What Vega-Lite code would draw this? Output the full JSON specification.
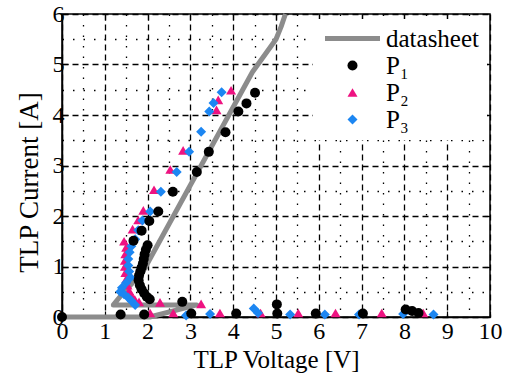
{
  "$schema": "https://vega.github.io/schema/vega-lite/v6.json",
  "width": 428,
  "height": 303,
  "autosize": {"type": "none"},
  "padding": {"left": 62, "top": 14, "right": 17, "bottom": 65},
  "config": {
    "view": {"stroke": "black", "strokeWidth": 1.5},
    "font": "Liberation Serif",
    "axis": {
      "labelFont": "Liberation Serif",
      "titleFont": "Liberation Serif",
      "labelColor": "black",
      "titleColor": "black",
      "titleFontWeight": "normal",
      "domainColor": "black",
      "domainWidth": 1.5,
      "tickColor": "black",
      "tickWidth": 1.2,
      "labelFlush": false,
      "labelOverlap": false
    },
    "legend": {
      "title": null,
      "orient": "none",
      "legendX": 251,
      "legendY": 5,
      "padding": 7,
      "fillColor": "white",
      "strokeColor": null,
      "labelFont": "Liberation Serif",
      "labelFontSize": 25,
      "labelColor": "black",
      "symbolSize": 45,
      "symbolOffset": 20,
      "labelOffset": 21,
      "rowPadding": 1
    }
  },
  "datasets": {
    "sheet": [
      {"V": 0, "I": 0, "series": "datasheet"},
      {"V": 2.05, "I": 0, "series": "datasheet"},
      {"V": 3.15, "I": 0.24, "series": "datasheet"},
      {"V": 1.2, "I": 0.24, "series": "datasheet"},
      {"V": 1.45, "I": 0.5, "series": "datasheet"},
      {"V": 1.88, "I": 0.88, "series": "datasheet"},
      {"V": 4.45, "I": 4.85, "series": "datasheet"},
      {"V": 5.0, "I": 5.5, "series": "datasheet"},
      {"V": 5.12, "I": 5.75, "series": "datasheet"},
      {"V": 5.22, "I": 6.0, "series": "datasheet"}
    ],
    "meas": [
      {"V": 3.95, "I": 4.49, "series": "P₂"},
      {"V": 3.65, "I": 4.30, "series": "P₂"},
      {"V": 3.61, "I": 4.10, "series": "P₂"},
      {"V": 2.83, "I": 3.30, "series": "P₂"},
      {"V": 2.53, "I": 2.92, "series": "P₂"},
      {"V": 2.15, "I": 2.52, "series": "P₂"},
      {"V": 1.90, "I": 2.11, "series": "P₂"},
      {"V": 1.78, "I": 1.92, "series": "P₂"},
      {"V": 1.65, "I": 1.74, "series": "P₂"},
      {"V": 1.45, "I": 1.50, "series": "P₂"},
      {"V": 1.50, "I": 1.38, "series": "P₂"},
      {"V": 1.48, "I": 1.25, "series": "P₂"},
      {"V": 1.47, "I": 1.12, "series": "P₂"},
      {"V": 1.47, "I": 1.00, "series": "P₂"},
      {"V": 1.48, "I": 0.88, "series": "P₂"},
      {"V": 1.50, "I": 0.75, "series": "P₂"},
      {"V": 1.53, "I": 0.63, "series": "P₂"},
      {"V": 1.57, "I": 0.52, "series": "P₂"},
      {"V": 1.62, "I": 0.43, "series": "P₂"},
      {"V": 1.70, "I": 0.35, "series": "P₂"},
      {"V": 1.80, "I": 0.30, "series": "P₂"},
      {"V": 2.29, "I": 0.29, "series": "P₂"},
      {"V": 3.25, "I": 0.26, "series": "P₂"},
      {"V": 2.06, "I": 0.08, "series": "P₂"},
      {"V": 2.60, "I": 0.08, "series": "P₂"},
      {"V": 3.69, "I": 0.08, "series": "P₂"},
      {"V": 4.64, "I": 0.08, "series": "P₂"},
      {"V": 5.52, "I": 0.08, "series": "P₂"},
      {"V": 6.39, "I": 0.08, "series": "P₂"},
      {"V": 7.47, "I": 0.08, "series": "P₂"},
      {"V": 8.44, "I": 0.08, "series": "P₂"},
      {"V": 3.73, "I": 4.45, "series": "P₃"},
      {"V": 3.54, "I": 4.24, "series": "P₃"},
      {"V": 3.44, "I": 4.07, "series": "P₃"},
      {"V": 3.25, "I": 3.67, "series": "P₃"},
      {"V": 2.97, "I": 3.27, "series": "P₃"},
      {"V": 2.68, "I": 2.87, "series": "P₃"},
      {"V": 2.31, "I": 2.48, "series": "P₃"},
      {"V": 2.06, "I": 2.09, "series": "P₃"},
      {"V": 1.88, "I": 1.91, "series": "P₃"},
      {"V": 1.78, "I": 1.72, "series": "P₃"},
      {"V": 1.71, "I": 1.54, "series": "P₃"},
      {"V": 1.62, "I": 1.40, "series": "P₃"},
      {"V": 1.58, "I": 1.28, "series": "P₃"},
      {"V": 1.55, "I": 1.15, "series": "P₃"},
      {"V": 1.55, "I": 1.02, "series": "P₃"},
      {"V": 1.57, "I": 0.90, "series": "P₃"},
      {"V": 1.60, "I": 0.78, "series": "P₃"},
      {"V": 1.50, "I": 0.68, "series": "P₃"},
      {"V": 1.40, "I": 0.58, "series": "P₃"},
      {"V": 1.36, "I": 0.50, "series": "P₃"},
      {"V": 1.45, "I": 0.45, "series": "P₃"},
      {"V": 1.55, "I": 0.38, "series": "P₃"},
      {"V": 1.62, "I": 0.32, "series": "P₃"},
      {"V": 1.71, "I": 0.24, "series": "P₃"},
      {"V": 2.90, "I": 0.03, "series": "P₃"},
      {"V": 3.46, "I": 0.06, "series": "P₃"},
      {"V": 4.48, "I": 0.17, "series": "P₃"},
      {"V": 4.58, "I": 0.08, "series": "P₃"},
      {"V": 5.33, "I": 0.05, "series": "P₃"},
      {"V": 6.14, "I": 0.05, "series": "P₃"},
      {"V": 6.94, "I": 0.05, "series": "P₃"},
      {"V": 7.97, "I": 0.06, "series": "P₃"},
      {"V": 8.68, "I": 0.05, "series": "P₃"},
      {"V": 0, "I": 0, "series": "P₁"},
      {"V": 1.37, "I": 0.05, "series": "P₁"},
      {"V": 1.92, "I": 0.05, "series": "P₁"},
      {"V": 3.02, "I": 0.07, "series": "P₁"},
      {"V": 4.07, "I": 0.07, "series": "P₁"},
      {"V": 5.03, "I": 0.07, "series": "P₁"},
      {"V": 5.93, "I": 0.07, "series": "P₁"},
      {"V": 7.03, "I": 0.07, "series": "P₁"},
      {"V": 8.03, "I": 0.15, "series": "P₁"},
      {"V": 8.18, "I": 0.12, "series": "P₁"},
      {"V": 8.33, "I": 0.08, "series": "P₁"},
      {"V": 2.81, "I": 0.30, "series": "P₁"},
      {"V": 5.02, "I": 0.25, "series": "P₁"},
      {"V": 2.05, "I": 0.35, "series": "P₁"},
      {"V": 1.98, "I": 0.40, "series": "P₁"},
      {"V": 1.92, "I": 0.47, "series": "P₁"},
      {"V": 1.86, "I": 0.55, "series": "P₁"},
      {"V": 1.82, "I": 0.63, "series": "P₁"},
      {"V": 1.79, "I": 0.73, "series": "P₁"},
      {"V": 1.80, "I": 0.82, "series": "P₁"},
      {"V": 1.83, "I": 0.90, "series": "P₁"},
      {"V": 1.86, "I": 0.98, "series": "P₁"},
      {"V": 1.89, "I": 1.06, "series": "P₁"},
      {"V": 1.91, "I": 1.15, "series": "P₁"},
      {"V": 1.93, "I": 1.24, "series": "P₁"},
      {"V": 1.96, "I": 1.33, "series": "P₁"},
      {"V": 2.00, "I": 1.42, "series": "P₁"},
      {"V": 1.67, "I": 1.51, "series": "P₁"},
      {"V": 1.86, "I": 1.71, "series": "P₁"},
      {"V": 2.04, "I": 1.90, "series": "P₁"},
      {"V": 2.25, "I": 2.09, "series": "P₁"},
      {"V": 2.59, "I": 2.48, "series": "P₁"},
      {"V": 3.15, "I": 2.87, "series": "P₁"},
      {"V": 3.43, "I": 3.27, "series": "P₁"},
      {"V": 3.82, "I": 3.66, "series": "P₁"},
      {"V": 4.12, "I": 4.07, "series": "P₁"},
      {"V": 4.31, "I": 4.23, "series": "P₁"},
      {"V": 4.51, "I": 4.44, "series": "P₁"}
    ]
  },
  "layer": [
    {
      "data": {"name": "sheet"},
      "mark": {"type": "line", "strokeWidth": 5, "strokeJoin": "round", "strokeCap": "butt"},
      "encoding": {
        "x": {
          "field": "V", "type": "quantitative",
          "scale": {"domain": [0, 10], "nice": false},
          "axis": {"orient": "top", "labels": false, "title": null, "grid": false, "domain": false,
                   "values": [1, 2, 3, 4, 5, 6, 7, 8, 9], "tickSize": -6}
        },
        "y": {
          "field": "I", "type": "quantitative",
          "scale": {"domain": [0, 6], "nice": false},
          "axis": {"orient": "right", "labels": false, "title": null, "grid": false, "domain": false,
                   "values": [1, 2, 3, 4, 5], "tickSize": -6}
        },
        "color": {
          "field": "series", "type": "nominal",
          "scale": {"domain": ["datasheet", "P₁", "P₂", "P₃"], "range": ["#8c8c8c", "#000000", "#ee1381", "#1c86f2"]},
          "legend": {
            "encode": {
              "symbols": {
                "update": {
                  "fill": {"scale": "color", "field": "value"},
                  "stroke": {"scale": "color", "field": "value"},
                  "strokeWidth": {"signal": "datum.value === 'datasheet' ? 5 : 0"},
                  "opacity": {"value": 1}
                }
              }
            }
          }
        },
        "order": {"value": null}
      }
    },
    {
      "data": {"name": "meas"},
      "mark": {"type": "point", "filled": true, "opacity": 1, "strokeWidth": 0},
      "encoding": {
        "x": {
          "field": "V", "type": "quantitative",
          "scale": {"domain": [0, 10], "nice": false},
          "axis": {
            "orient": "bottom",
            "title": "TLP Voltage [V]",
            "values": [0, 0.5, 1, 1.5, 2, 2.5, 3, 3.5, 4, 4.5, 5, 5.5, 6, 6.5, 7, 7.5, 8, 8.5, 9, 9.5, 10],
            "labelExpr": "datum.value % 1 === 0 ? format(datum.value, 'd') : ''",
            "labelFontSize": 24,
            "titleFontSize": 25,
            "labelPadding": 8,
            "titlePadding": 4,
            "tickSize": -6,
            "tickOpacity": {"condition": {"test": "datum.value % 1 !== 0", "value": 0}, "value": 1},
            "grid": true,
            "gridColor": "black",
            "gridOpacity": 1,
            "gridWidth": 1.3,
            "gridDash": {"condition": {"test": "datum.value % 1 === 0", "value": [6, 4]}, "value": [1.5, 9]}
          }
        },
        "y": {
          "field": "I", "type": "quantitative",
          "scale": {"domain": [0, 6], "nice": false},
          "axis": {
            "orient": "left",
            "title": "TLP Current [A]",
            "values": [0, 0.5, 1, 1.5, 2, 2.5, 3, 3.5, 4, 4.5, 5, 5.5, 6],
            "labelExpr": "datum.value % 1 === 0 ? format(datum.value, 'd') : ''",
            "labelFontSize": 24,
            "titleFontSize": 27,
            "labelPadding": 4,
            "titlePadding": 9,
            "titleY": 168,
            "tickSize": -6,
            "tickOpacity": {"condition": {"test": "datum.value % 1 !== 0", "value": 0}, "value": 1},
            "grid": true,
            "gridColor": "black",
            "gridOpacity": 1,
            "gridWidth": 1.3,
            "gridDash": {"condition": {"test": "datum.value % 1 === 0", "value": [6, 4]}, "value": [1.5, 9]}
          }
        },
        "size": {
          "field": "series", "type": "nominal",
          "scale": {"domain": ["datasheet", "P₁", "P₂", "P₃"], "range": [100, 100, 135, 115]},
          "legend": null
        },
        "color": {
          "field": "series", "type": "nominal",
          "scale": {"domain": ["datasheet", "P₁", "P₂", "P₃"], "range": ["#8c8c8c", "#000000", "#ee1381", "#1c86f2"]},
          "legend": {
            "encode": {
              "symbols": {
                "update": {
                  "fill": {"scale": "color", "field": "value"},
                  "stroke": {"scale": "color", "field": "value"},
                  "strokeWidth": {"signal": "datum.value === 'datasheet' ? 5 : 0"},
                  "opacity": {"value": 1}
                }
              }
            }
          }
        },
        "shape": {
          "field": "series", "type": "nominal",
          "scale": {"domain": ["datasheet", "P₁", "P₂", "P₃"], "range": ["M-5.5,0H5.5", "circle", "triangle-up", "diamond"]},
          "legend": {
            "encode": {
              "symbols": {
                "update": {
                  "fill": {"scale": "color", "field": "value"},
                  "stroke": {"scale": "color", "field": "value"},
                  "strokeWidth": {"signal": "datum.value === 'datasheet' ? 5 : 0"},
                  "opacity": {"value": 1}
                }
              }
            }
          }
        }
      }
    }
  ],
  "resolve": {"axis": {"x": "independent", "y": "independent"}}
}
